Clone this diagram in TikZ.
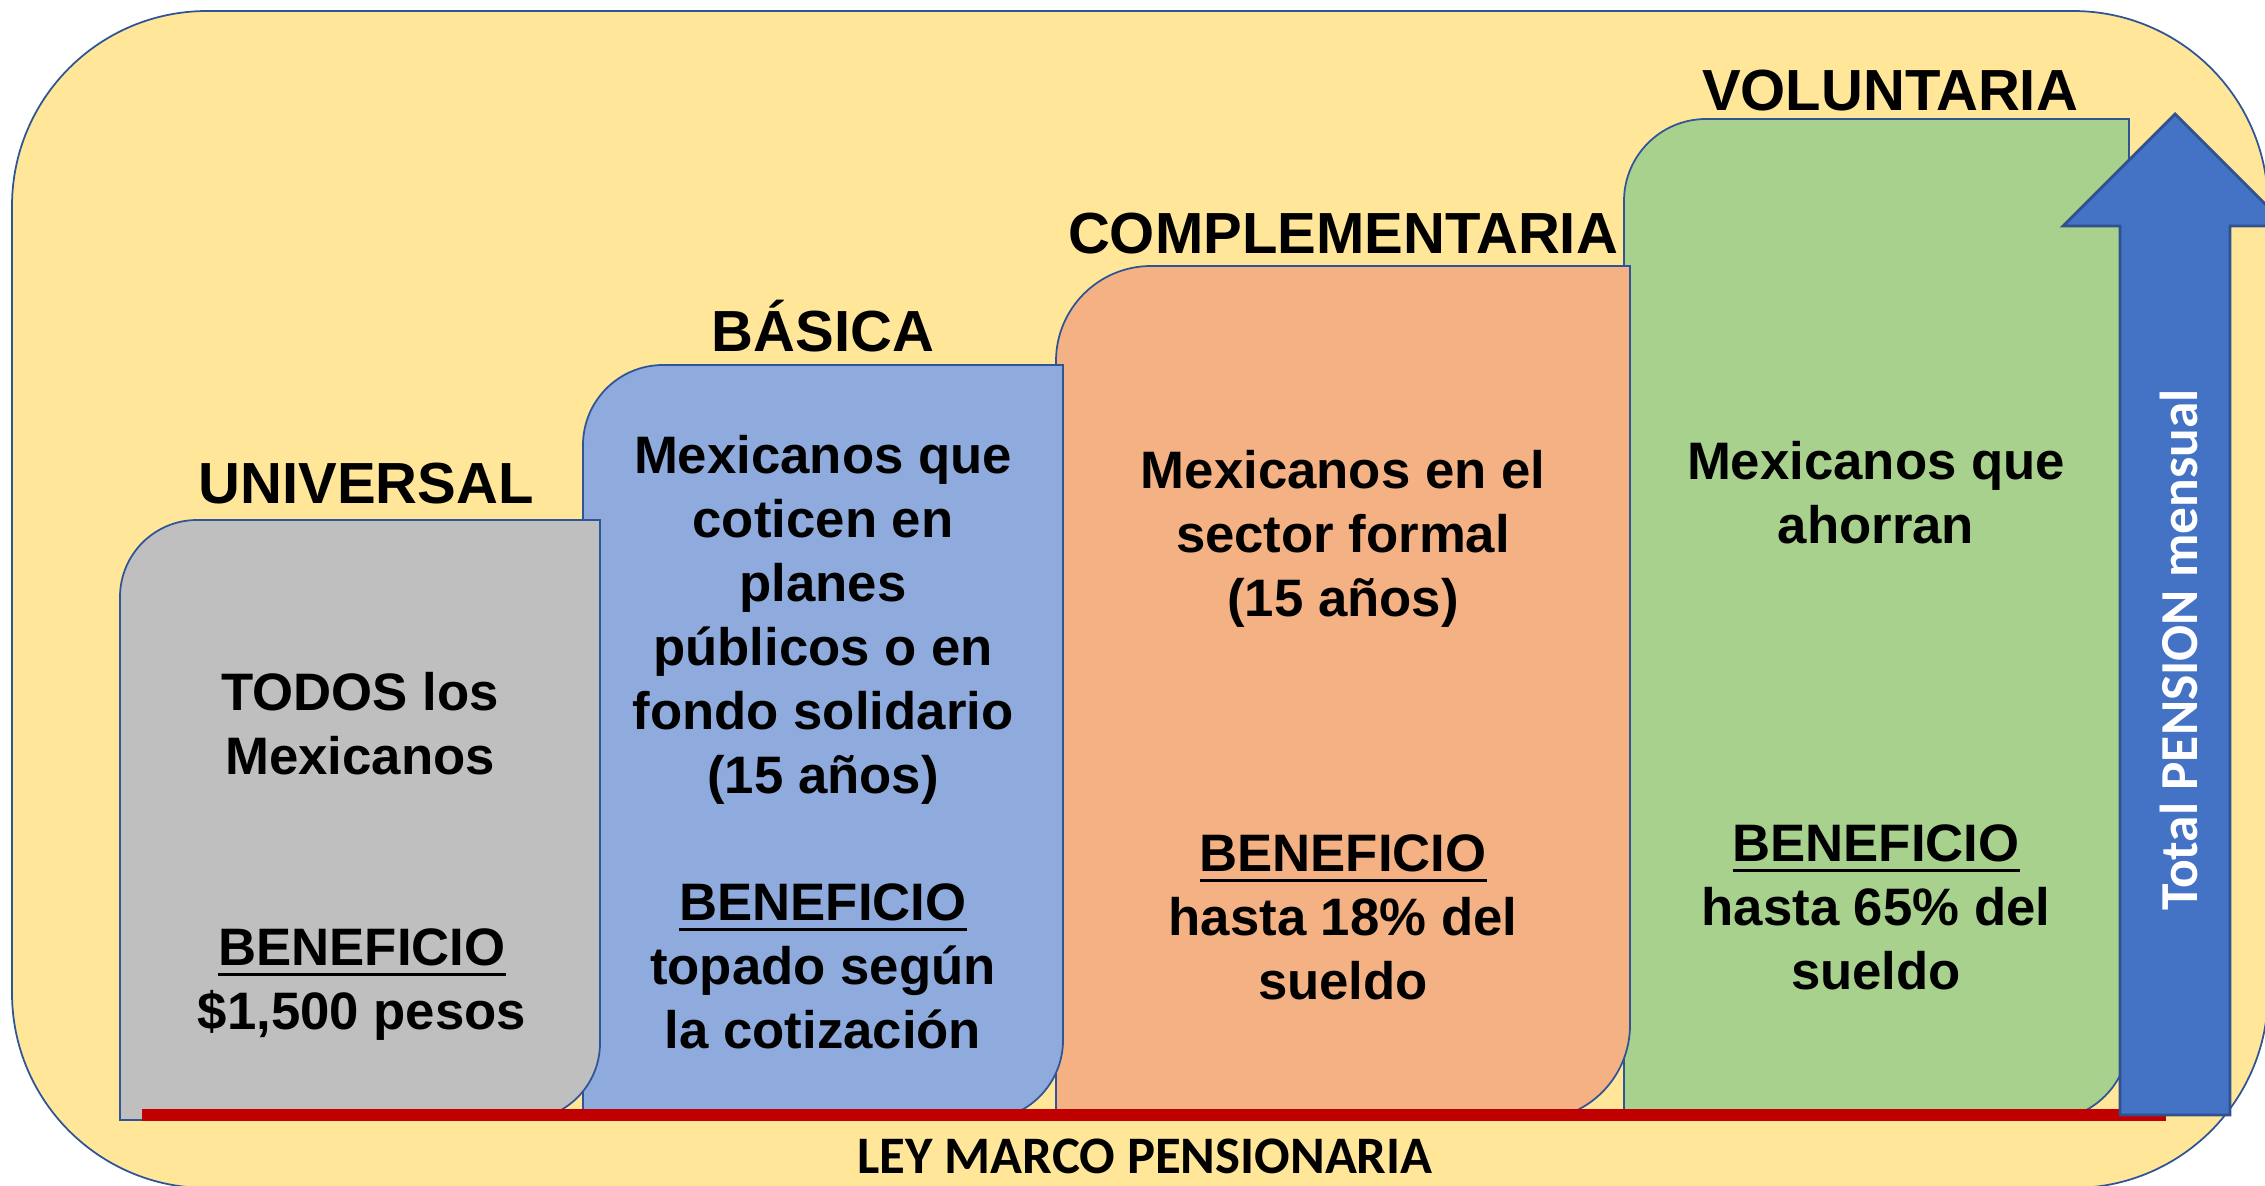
\documentclass[tikz,border=0pt]{standalone}
\usepackage{fontspec}
\setmainfont{Liberation Sans}
\newfontfamily\calibri{Carlito}
\newcommand{\subrayado}[1]{\setbox0=\hbox{#1}\rlap{\vrule width\wd0 height -2pt depth 3.1pt}\box0}
\definecolor{fondo}{HTML}{FFE699}
\definecolor{borde}{HTML}{2F5597}
\definecolor{gris}{HTML}{BFBFBF}
\definecolor{azul}{HTML}{8FAADC}
\definecolor{naranja}{HTML}{F4B183}
\definecolor{verde}{HTML}{A9D18E}
\definecolor{flecha}{HTML}{4472C4}
\definecolor{flechaborde}{HTML}{2F528F}
\definecolor{rojo}{HTML}{C00000}
\begin{document}
\begin{tikzpicture}[x=0.1mm,y=0.1mm,
    caja/.style={draw=borde,line width=0.5pt},
    titulo/.style={font=\bfseries\fontsize{16.5}{19}\selectfont,inner sep=0,anchor=base},
    texto/.style={font=\bfseries\fontsize{15}{18.2}\selectfont,inner sep=0,align=center,anchor=north}]
  \useasboundingbox (0,0) rectangle (2265,-1185);
  \draw[caja,fill=fondo,rounded corners=19.5mm] (12,-11) rectangle (2268,-1188);

  \draw[caja,fill=verde] (1624,-1120) -- (1624,-201) arc[start angle=180,end angle=90,radius=82]
    -- (2129,-119) -- (2129,-1038) arc[start angle=0,end angle=-90,radius=82] -- cycle;
  \draw[caja,fill=naranja] (1056,-1120) -- (1056,-361) arc[start angle=180,end angle=90,radius=95]
    -- (1630,-266) -- (1630,-1025) arc[start angle=0,end angle=-90,radius=95] -- cycle;
  \draw[caja,fill=azul] (583,-1120) -- (583,-445) arc[start angle=180,end angle=90,radius=80]
    -- (1063,-365) -- (1063,-1040) arc[start angle=0,end angle=-90,radius=80] -- cycle;
  \draw[caja,fill=gris] (120,-1120) -- (120,-597) arc[start angle=180,end angle=90,radius=77]
    -- (600,-520) -- (600,-1043) arc[start angle=0,end angle=-90,radius=77] -- cycle;

  \fill[rojo] (142,-1109) rectangle (2166,-1121);
  \draw[fill=flecha,draw=flechaborde,line width=0.8pt] (2120,-1115) -- (2120,-226) -- (2063,-226)
    -- (2175,-114) -- (2287,-226) -- (2230,-226) -- (2230,-1115) -- cycle;

  \node[titulo] (uni) at (366,-503) {UNIVERSAL};
  \node[titulo] (bas) at (823,-351) {BÁSICA};
  \node[titulo] (com) at (1343,-253) {COMPLEMENTARIA};
  \node[titulo] (vol) at (1890,-110) {VOLUNTARIA};

  \node[texto] (uni1) at (360,-672) {TODOS los\\Mexicanos};
  \node[texto] (uni2) at (362,-928) {\subrayado{BENEFICIO}\\\$1,500 pesos};
  \node[texto] (bas1) at (823,-435) {Mexicanos que\\coticen en\\planes\\públicos o en\\fondo solidario\\(15 años)};
  \node[texto] (bas2) at (823,-883) {\subrayado{BENEFICIO}\\topado según\\la cotización};
  \node[texto] (com1) at (1343,-450) {Mexicanos en el\\sector formal\\(15 años)};
  \node[texto] (com2) at (1343,-834) {\subrayado{BENEFICIO}\\hasta 18\% del\\sueldo};
  \node[texto] (vol1) at (1876,-441) {Mexicanos que\\ahorran};
  \node[texto] (vol2) at (1876,-824) {\subrayado{BENEFICIO}\\hasta 65\% del\\sueldo};

  \node[font=\calibri\bfseries\fontsize{15}{18}\selectfont,inner sep=0,anchor=base] (ley) at (1145,-1173) {LEY MARCO PENSIONARIA};
  \node[font=\calibri\bfseries\fontsize{15.2}{18}\selectfont,text=white,rotate=90,inner sep=0,anchor=base] (total) at (2197,-650) {Total PENSION mensual};
\end{tikzpicture}
\end{document}
